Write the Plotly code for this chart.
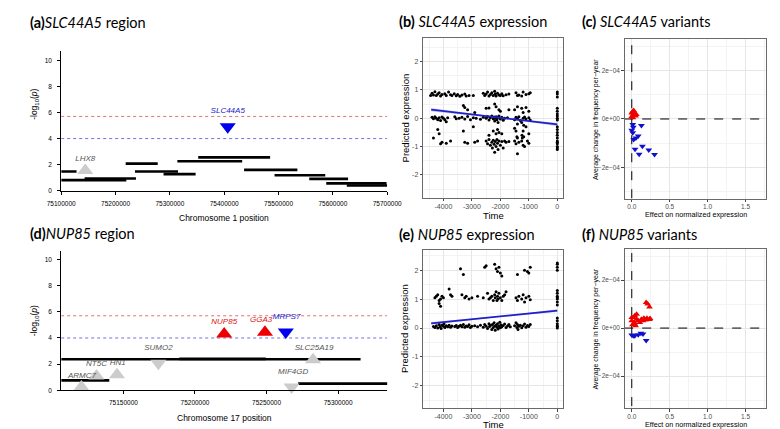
import plotly.graph_objects as go

W, H = 780, 429

# ---------------- Panel (a): SLC44A5 region ----------------
a_seg_start = [75100000, 75100000, 75143100, 75218700, 75235800, 75288400, 75313800,
               75352200, 75436600, 75492700, 75556500, 75587800, 75625600]
a_seg_end = [75128300, 75219900, 75237600, 75277700, 75315000, 75347400, 75433100,
             75484500, 75534700, 75586000, 75628000, 75698800, 75700000]
a_seg_y = [1.47, 0.81, 0.94, 2.08, 1.47, 1.27, 2.26, 2.56, 1.60, 1.19, 0.91, 0.56, 0.40]
a_gene = ["LHX8", "SLC44A5"]
a_gene_x = [75144300, 75406500]
a_gene_y = [1.55, 4.90]
a_gene_label_y = [2.46, 6.09]
a_gene_dir = ["up", "down"]
a_gene_col = ["#cccccc", "#0000ee"]
a_label_col = ["#555555", "#2222cc"]
a_xticks = [75100000, 75200000, 75300000, 75400000, 75500000, 75600000, 75700000]

# ---------------- Panel (d): NUP85 region ----------------
d_seg_start = [75106500, 75189000, 75106500, 75272000]
d_seg_end = [75315700, 75249500, 75140100, 75334800]
d_seg_y = [2.38, 2.40, 0.76, 0.51]
d_gene = ["ARMC7", "NT5C", "HN1", "SUMO2", "NUP85", "GGA3", "MRPS7", "SLC25A19", "MIF4GD"]
d_gene_x = [75120630, 75131170, 75145520, 75174440, 75220400, 75248870, 75263450, 75282500, 75267480]
d_gene_y = [0.25, 1.09, 1.19, 2.07, 4.30, 4.43, 4.45, 2.33, 0.25]
d_label_x = [75121000, 75131170, 75146000, 75174440, 75220400, 75246180, 75264000, 75283180, 75268600]
d_label_y = [1.09, 2.02, 2.07, 3.24, 5.24, 5.39, 5.62, 3.24, 1.39]
d_gene_dir = ["up", "up", "up", "down", "up", "up", "down", "up", "down"]
d_gene_col = ["#cccccc", "#cccccc", "#cccccc", "#cccccc", "#ee0000", "#ee0000", "#0000ee", "#cccccc", "#cccccc"]
d_label_col = ["#555555", "#555555", "#555555", "#555555", "#dd1111", "#dd1111", "#2222cc", "#555555", "#555555"]
d_xticks = [75150000, 75200000, 75250000, 75300000]

thr_red = [5.7]
thr_blue = [4.0]
y_ticks_r = [0, 2, 4, 6, 8, 10]

# ---------------- Panel (b): SLC44A5 expression ----------------
b_time = [
    -4450, -4400, -4350, -4300, -4250, -4200, -4150, -4100, -4050, -3950, -3900, -3820, -3750, -3700,
    -3620, -3550, -3500, -3420, -3350, -3250, -3200, -3100, -2950, -2600, -2550, -2500, -2450, -2400,
    -2350, -2300, -2250, -2200, -2180, -2150, -2100, -2050, -2000, -1950, -1900, -1800, -1700, -1450,
    -1400, -1350, -1250, -1200, -1100, -1000, -950, 0, 0, 0,
    -4400, -4350, -4300, -4250, -4200, -4150, -4100, -4050, -4000, -3950, -3900, -3850, -3600, -3550,
    -3450, -3350, -3250, -3150, -3050, -2950, -2850, -2700, -2600, -2500, -2450, -2400, -2350, -2300,
    -2250, -2220, -2200, -2180, -2150, -2120, -2100, -2080, -2050, -2000, -1950, -1900, -1850, -1750,
    -1500, -1450, -1400, -1350, -1300, -1200, -1150, -1100, -1000, -950, 0, 0, 0,
    -3300, -3250, -3150, -2900, -2500, -2400, -2200, -2150, -2050, -2000, -1700, -1500, -1400, -1250,
    -1200, -1100, -1000, 0, 0, 0,
    -4200, -4150, -3300, -2950, -2400, -2250, -2150, -2100, -2050, -1950, -1500, -1450, -1200, -1100,
    -1000, 0, 0, 0, -1400, -1250, -1180,
    -4350, -4100, -4050, -3900, -3750, -3250, -3150, -2900, -2800, -2500, -2450, -2400, -2350, -2300,
    -2280, -2250, -2220, -2200, -2180, -2150, -2120, -2100, -2080, -2050, -2000, -1950, -1900, -1850,
    -1800, -1700, -1500, -1450, -1400, -1350, -1250, -1200, -1150, -1050, -1000, 0, 0, 0, 0, 0,
    -1420, -1400, -1240, -1230, -1180, 0, 0, 0,
]
b_expr = [
    0.80, 0.88, 0.82, 0.93, 0.80, 0.85, 0.90, 0.78, 0.84, 0.86, 0.80, 0.92, 0.83, 0.80,
    0.86, 0.79, 0.84, 0.77, 0.82, 0.85, 0.78, 0.80, 0.80, 0.88, 0.80, 0.85, 0.92, 0.78,
    0.84, 0.90, 0.80, 0.95, 0.85, 0.78, 0.88, 0.82, 0.80, 0.86, 0.79, 0.83, 0.85, 0.90,
    0.80, 0.82, 0.78, 0.92, 0.84, 0.86, 0.90, 0.85, 0.75, 0.92,
    0.03, -0.02, 0.05, 0.00, -0.05, 0.02, -0.08, 0.04, 0.00, -0.05, -0.12, 0.02, 0.05, -0.02,
    0.00, 0.03, -0.03, 0.06, -0.05, 0.02, 0.00, -0.04, 0.03, 0.00, 0.06, -0.06, 0.02, 0.08,
    -0.02, 0.04, -0.10, 0.00, 0.05, -0.05, 0.02, -0.15, 0.08, -0.03, 0.03, -0.07, 0.00, 0.02,
    -0.05, 0.03, -0.02, 0.05, -0.08, 0.00, 0.04, -0.03, 0.02, -0.06, 0.00, 0.08, -0.06,
    0.45, 0.38, 0.30, 0.20, 0.35, 0.36, 0.50, 0.40, 0.30, 0.25, 0.30, 0.30, 0.40, 0.35,
    0.20, 0.38, 0.25, 0.35, 0.25, 0.15,
    -0.40, -0.55, -0.45, -0.30, -0.60, -0.45, -0.55, -0.40, -0.50, -0.55, -0.35, -0.45, -0.45, -0.30,
    -0.55, -0.30, -0.50, -0.60, -0.20, -0.15, -0.25,
    -0.70, -0.90, -0.85, -0.88, -0.80, -0.85, -0.88, -0.85, -0.80, -0.80, -0.90, -0.75, -0.95, -0.85,
    -1.05, -0.78, -0.92, -1.20, -0.82, -1.00, -0.75, -0.88, -1.10, -0.80, -0.95, -0.82, -1.05, -0.80,
    -0.85, -0.82, -0.80, -0.90, -1.25, -0.85, -0.80, -0.95, -1.00, -0.80, -0.88, -0.80, -0.90, -1.00,
    -1.10, -0.70,
    -0.65, -0.70, -0.60, -0.70, -0.65, -0.85, -1.05, -0.40,
]
b_line_x = [-4430, -3300, -2200, -1100, 0]
b_line_y = [0.30, 0.17, 0.04, -0.09, -0.22]
b_band_hi = [0.36, 0.20, 0.06, -0.065, -0.16]
b_band_lo = [0.24, 0.14, 0.02, -0.115, -0.28]

# ---------------- Panel (e): NUP85 expression ----------------
e_time = [
    -3400, -3300, -2550, -2500, -2200, -2150, -2100, -2050, -2000, -1950, -1400, -1150, -1050, -1000,
    -950, 0, 0, 0, 0,
    -4300, -4250, -4200, -4150, -4100, -4150, -4100, -4050, -4000, -3800, -3750, -3700, -3350, -3250,
    -3200, -3100, -3000, -2800, -2600, -2450, -2400, -2350, -2300, -2250, -2200, -2180, -2150, -2120,
    -2100, -2080, -2050, -2000, -1950, -1900, -1850, -1800, -1450, -1400, -1350, -1250, -1200, -1150,
    -1100, -1000, -950, 0, 0, 0, 0, 0, 0, 0,
    -4350, -4300, -4250, -4200, -4150, -4120, -4080, -4050, -4000, -3980, -3950, -3900, -3850, -3800,
    -3750, -3700, -3600, -3550, -3500, -3450, -3400, -3350, -3300, -3250, -3200, -3150, -3100, -3050,
    -3000, -2900, -2800, -2700, -2600, -2550, -2500, -2450, -2400, -2380, -2350, -2300, -2280, -2250,
    -2220, -2200, -2180, -2150, -2120, -2100, -2080, -2050, -2020, -2000, -1980, -1950, -1900, -1850,
    -1800, -1750, -1700, -1650, -1500, -1450, -1420, -1400, -1380, -1350, -1300, -1250, -1200, -1150,
    -1100, -1050, -1000, -950, 0, 0, 0, 0, 0, 0,
]
e_expr = [
    2.05, 1.85, 2.10, 2.15, 2.20, 2.05, 1.95, 2.10, 1.90, 1.80, 1.85, 2.00, 1.95, 1.90,
    2.10, 2.20, 2.10, 2.00, 2.25,
    1.05, 1.10, 1.15, 0.95, 1.00, 0.85, 0.75, 1.10, 1.05, 1.35, 1.15, 1.10, 1.15, 1.05,
    1.10, 1.00, 1.05, 1.10, 1.05, 1.20, 1.00, 1.05, 1.10, 0.95, 1.15, 1.05, 1.25, 0.95,
    1.10, 1.00, 1.20, 1.05, 0.95, 1.10, 1.15, 1.25, 1.05, 0.95, 1.10, 1.00, 1.15, 0.90,
    1.05, 1.10, 0.98, 1.30, 1.20, 1.10, 1.00, 0.90, 1.05, 0.80,
    0.05, 0.02, 0.08, 0.00, 0.12, 0.04, -0.02, 0.10, 0.06, 0.15, 0.02, 0.08, 0.04, 0.10,
    0.03, 0.07, 0.05, 0.09, 0.02, 0.06, 0.10, 0.04, 0.12, 0.03, 0.07, 0.05, 0.11, 0.02,
    0.06, 0.08, 0.04, 0.10, 0.03, 0.12, 0.06, -0.02, 0.15, 0.05, 0.09, -0.05, 0.12, 0.02,
    0.18, 0.07, -0.08, 0.10, 0.03, 0.15, -0.03, 0.06, 0.20, 0.01, 0.11, 0.04, 0.09, 0.14,
    0.02, 0.07, 0.12, 0.04, 0.08, 0.18, 0.02, 0.12, -0.05, 0.06, 0.10, 0.01, 0.08, 0.14,
    0.03, 0.09, 0.05, 0.12, 0.00, 0.08, 0.15, 0.25, 0.35, 0.05,
]
e_line_x = [-4430, -3300, -2200, -1100, 0]
e_line_y = [0.16, 0.27, 0.38, 0.49, 0.60]
e_band_hi = [0.21, 0.30, 0.40, 0.515, 0.65]
e_band_lo = [0.11, 0.24, 0.36, 0.465, 0.55]

# ---------------- Panel (c): SLC44A5 variants ----------------
c_up_x = [0.0, 0.01, 0.02, 0.03, 0.04, 0.05, 0.0, 0.015, 0.06, 0.025]
c_up_y = [0.25e-4, 0.30e-4, 0.20e-4, 0.15e-4, 0.22e-4, 0.12e-4, 0.10e-4, 0.05e-4, 0.18e-4, 0.35e-4]
c_dn_x = [0.013, 0.02, 0.0, 0.013, 0.127, 0.085, 0.055, 0.025, 0.14, 0.043, 0.097, 0.224, 0.30]
c_dn_y = [-0.23e-4, -0.34e-4, -0.46e-4, -0.57e-4, -0.27e-4, -0.70e-4, -0.78e-4, -0.84e-4,
          -1.12e-4, -1.25e-4, -1.45e-4, -1.28e-4, -1.46e-4]

# ---------------- Panel (f): NUP85 variants ----------------
f_up_x = [0.19, 0.233, 0.21, 0.04, 0.02, 0.064, 0.085, 0.127, 0.18, 0.233, 0.0, 0.01, 0.04, 0.106,
          0.148, 0.0, 0.064, 0.034, 0.16, 0.20, 0.24, 0.05]
f_up_y = [1.06e-4, 0.88e-4, 1.00e-4, 0.51e-4, 0.44e-4, 0.58e-4, 0.30e-4, 0.37e-4, 0.34e-4, 0.36e-4,
          0.30e-4, 0.14e-4, 0.17e-4, 0.23e-4, 0.30e-4, 0.44e-4, 0.37e-4, 0.23e-4, 0.41e-4, 0.41e-4,
          0.40e-4, 0.10e-4]
f_dn_x = [0.0, 0.04, 0.085, 0.148, 0.19, 0.02, 0.12]
f_dn_y = [-0.29e-4, -0.32e-4, -0.28e-4, -0.25e-4, -0.52e-4, -0.32e-4, -0.22e-4]

# ======================================================================
def px(x):
    return x / W

def py(y):
    return 1 - y / H

fig = go.Figure()

def seg_trace(starts, ends, ys, xa, ya):
    xs, yv = [], []
    for s, e, y in zip(starts, ends, ys):
        xs += [s, e, None]
        yv += [y, y, None]
    return go.Scatter(x=xs, y=yv, mode="lines", line=dict(color="black", width=2.6),
                      xaxis=xa, yaxis=ya, showlegend=False, hoverinfo="skip", cliponaxis=False)

def region_panel(starts, ends, ys, gx, gy, gdir, gcol, lx, ly, names, lcol, xr, xa, ya):
    fig.add_trace(go.Scatter(x=[xr[0], xr[1]], y=thr_red * 2, mode="lines",
                             line=dict(color="#e07070", width=1, dash="dot"),
                             xaxis=xa, yaxis=ya, showlegend=False))
    fig.add_trace(go.Scatter(x=[xr[0], xr[1]], y=thr_blue * 2, mode="lines",
                             line=dict(color="#7070e0", width=1, dash="dot"),
                             xaxis=xa, yaxis=ya, showlegend=False))
    fig.add_trace(seg_trace(starts, ends, ys, xa, ya))
    sym = ["triangle-up" if d == "up" else "triangle-down" for d in gdir]
    fig.add_trace(go.Scatter(x=gx, y=gy, mode="markers",
                             marker=dict(symbol=sym, size=14, color=gcol, line=dict(width=0)),
                             xaxis=xa, yaxis=ya, showlegend=False, cliponaxis=False))
    fig.add_trace(go.Scatter(x=lx, y=ly, mode="text", text=["<i>%s</i>" % n for n in names],
                             textfont=dict(family="Liberation Sans, Arial", size=8, color=lcol),
                             textposition="middle center",
                             xaxis=xa, yaxis=ya, showlegend=False, cliponaxis=False))

region_panel(a_seg_start, a_seg_end, a_seg_y, a_gene_x, a_gene_y, a_gene_dir, a_gene_col,
             a_gene_x, a_gene_label_y, a_gene, a_label_col, [75100000, 75700000], "x", "y")
region_panel(d_seg_start, d_seg_end, d_seg_y, d_gene_x, d_gene_y, d_gene_dir, d_gene_col,
             d_label_x, d_label_y, d_gene, d_label_col, [75106500, 75334300], "x4", "y4")

def expr_panel(t, e, lx, ly, hi, lo, xa, ya):
    fig.add_trace(go.Scatter(x=lx + lx[::-1], y=hi + lo[::-1], mode="lines", fill="toself",
                             fillcolor="rgba(90,90,230,0.28)", line=dict(width=0),
                             xaxis=xa, yaxis=ya, showlegend=False, hoverinfo="skip"))
    fig.add_trace(go.Scatter(x=t, y=e, mode="markers",
                             marker=dict(size=3, color="black"),
                             xaxis=xa, yaxis=ya, showlegend=False))
    fig.add_trace(go.Scatter(x=lx, y=ly, mode="lines", line=dict(color="#2020c8", width=1.8),
                             xaxis=xa, yaxis=ya, showlegend=False))

expr_panel(b_time, b_expr, b_line_x, b_line_y, b_band_hi, b_band_lo, "x2", "y2")
expr_panel(e_time, e_expr, e_line_x, e_line_y, e_band_hi, e_band_lo, "x5", "y5")

def var_panel(ux, uy, dx, dy, xa, ya, yr):
    fig.add_trace(go.Scatter(x=[0, 0], y=yr, mode="lines",
                             line=dict(color="black", width=1, dash="dash"),
                             xaxis=xa, yaxis=ya, showlegend=False))
    fig.add_trace(go.Scatter(x=[-0.1, 1.8], y=[0, 0], mode="lines",
                             line=dict(color="black", width=1, dash="dash"),
                             xaxis=xa, yaxis=ya, showlegend=False))
    fig.add_trace(go.Scatter(x=ux, y=uy, mode="markers",
                             marker=dict(symbol="triangle-up", size=6, color="#ee0000"),
                             xaxis=xa, yaxis=ya, showlegend=False))
    fig.add_trace(go.Scatter(x=dx, y=dy, mode="markers",
                             marker=dict(symbol="triangle-down", size=6, color="#1010cc"),
                             xaxis=xa, yaxis=ya, showlegend=False))

var_panel(c_up_x, c_up_y, c_dn_x, c_dn_y, "x3", "y3", [-4e-4, 4e-4])
var_panel(f_up_x, f_up_y, f_dn_x, f_dn_y, "x6", "y6", [-4e-4, 4e-4])

RFONT = "Liberation Sans, Arial, sans-serif"

def r_xaxis(dom, rng, ticks, anchor):
    return dict(domain=[px(dom[0]), px(dom[1])], range=rng, anchor=anchor,
                showline=True, linecolor="black", linewidth=1, ticks="outside", ticklen=3,
                tickcolor="black", tickwidth=1, showgrid=False, zeroline=False,
                tickmode="array", tickvals=ticks, ticktext=[str(v) for v in ticks],
                tickfont=dict(family=RFONT, size=6.5, color="black"), ticklabelstandoff=3)

def r_yaxis(dom, rng, anchor):
    return dict(domain=[py(dom[1]), py(dom[0])], range=rng, anchor=anchor,
                showline=True, linecolor="black", linewidth=1, ticks="outside", ticklen=3,
                tickcolor="black", tickwidth=1, showgrid=False, zeroline=False,
                tickmode="array", tickvals=y_ticks_r,
                tickfont=dict(family=RFONT, size=6.5, color="black"), ticklabelstandoff=4)

def gg_axis(dom, rng, tv, tt, minor, anchor, vertical=False, fsize=7):
    d = [py(dom[1]), py(dom[0])] if vertical else [px(dom[0]), px(dom[1])]
    ax = dict(domain=d, range=rng, anchor=anchor,
              showline=True, mirror=True, linecolor="#6a6a6a", linewidth=1,
              ticks="outside", ticklen=2.5, tickcolor="#444444", tickwidth=1,
              showgrid=True, gridcolor="#e6e6e6", gridwidth=0.8, zeroline=False,
              tickmode="array", tickvals=tv, ticktext=tt,
              minor=dict(tickmode="array", tickvals=minor, showgrid=True,
                         gridcolor="#f3f3f3", gridwidth=0.6, ticks=""),
              tickfont=dict(family=RFONT, size=fsize, color="#4d4d4d"))
    if not vertical:
        ax["ticklabelstandoff"] = -1
    return ax

time_ticks = [-4000, -3000, -2000, -1000, 0]
time_text = ["-4000", "-3000", "-2000", "-1000", "0"]
time_minor = [-4500, -3500, -2500, -1500, -500]
expr_ticks = [-2, -1, 0, 1, 2]
expr_text = ["-2", "-1", "0", "1", "2"]
expr_minor = [-2.5, -1.5, -0.5, 0.5, 1.5, 2.5]
eff_ticks = [0.0, 0.5, 1.0, 1.5]
eff_text = ["0.0", "0.5", "1.0", "1.5"]
eff_minor = [0.25, 0.75, 1.25, 1.75]
frq_ticks = [-2e-4, 0, 2e-4]
frq_text = ["\u22122e\u221204", "0e+00", "2e\u221204"]
frq_minor = [-3e-4, -1e-4, 1e-4, 3e-4]

fig.update_layout(
    width=W, height=H, margin=dict(l=0, r=0, t=0, b=0), autosize=False,
    paper_bgcolor="white", plot_bgcolor="white", showlegend=False,
    xaxis=r_xaxis([40.7, 379.3], [75100000, 75700000], a_xticks, "y"),
    yaxis=r_yaxis([43.3, 184], [0, 10.72], "x"),
    xaxis4=r_xaxis([40.7, 379.3], [75106500, 75334300], d_xticks, "y4"),
    yaxis4=r_yaxis([245, 385], [0, 10.63], "x4"),
    xaxis2=gg_axis([416.7, 562.3], [-4710, 214], time_ticks, time_text, time_minor, "y2"),
    yaxis2=gg_axis([30.7, 191], [-2.8, 2.81], expr_ticks, expr_text, expr_minor, "x2", True),
    xaxis5=gg_axis([416.7, 562.3], [-4710, 214], time_ticks, time_text, time_minor, "y5"),
    yaxis5=gg_axis([243.3, 403.3], [-2.78, 2.71], expr_ticks, expr_text, expr_minor, "x5", True),
    xaxis3=gg_axis([626, 772.7], [-0.093, 1.77], eff_ticks, eff_text, eff_minor, "y3", False, 6.5),
    yaxis3=gg_axis([31.7, 192.3], [-3.29e-4, 3.27e-4], frq_ticks, frq_text, frq_minor, "x3", True, 6.5),
    xaxis6=gg_axis([626, 772.7], [-0.093, 1.77], eff_ticks, eff_text, eff_minor, "y6", False, 6.5),
    yaxis6=gg_axis([242.3, 403.3], [-3.35e-4, 3.31e-4], frq_ticks, frq_text, frq_minor, "x6", True, 6.5),
)

TFONT = "Lato, Open Sans, sans-serif"
ann = []

def title(xp, yp, letter, gene, rest, space=""):
    ann.append(dict(x=px(xp), y=py(yp), xref="paper", yref="paper", xanchor="left", yanchor="middle",
                    showarrow=False, text="<b>(%s)</b>%s<i>%s</i> %s" % (letter, space, gene, rest),
                    font=dict(family=TFONT, size=14.5, color="black")))

title(6, 15, "a", "SLC44A5", "region")
title(389, 14, "b", "SLC44A5", "expression", " ")
title(580, 14, "c", "SLC44A5", "variants", " ")
title(6, 227, "d", "NUP85", "region")
title(389, 228, "e", "NUP85", "expression", " ")
title(580, 228, "f", "NUP85", "variants", " ")

def label(xp, yp, text, size, rot=0, color="black"):
    ann.append(dict(x=px(xp), y=py(yp), xref="paper", yref="paper", xanchor="center",
                    yanchor="middle", showarrow=False, text=text, textangle=rot,
                    font=dict(family=RFONT, size=size, color=color)))

label(13, 97, "-log<sub>10</sub>(<i>p</i>)", 8.5, -90)
label(210, 211.5, "Chromosome 1 position", 8.5)
label(13, 315, "-log<sub>10</sub>(<i>p</i>)", 8.5, -90)
label(210, 412.5, "Chromosome 17 position", 8.5)
label(398, 111, "Predicted expression", 9.5, -90)
label(490, 208.5, "Time", 9.5)
label(398, 323, "Predicted expression", 9.5, -90)
label(490, 419, "Time", 9.5)
label(596, 112, "Average change in frequency per\u2212year", 7, -90)
label(700, 208, "Effect on normalized expression", 7.2)
label(596, 323, "Average change in frequency per\u2212year", 7, -90)
label(700, 419.5, "Effect on normalized expression", 7.2)

fig.update_layout(annotations=ann)
fig.write_html("out.html")
